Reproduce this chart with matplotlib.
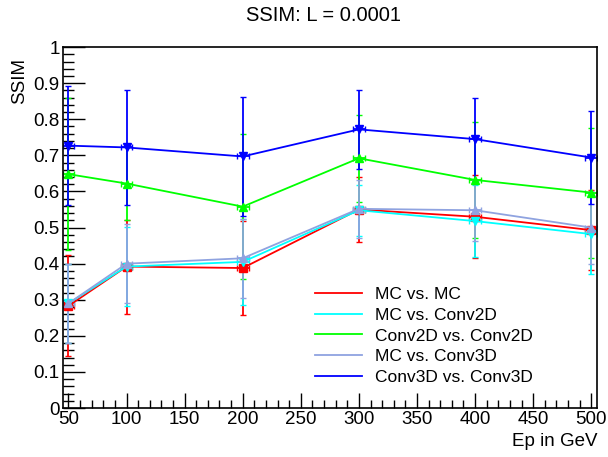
import matplotlib
matplotlib.use("Agg")
import matplotlib.pyplot as plt
from matplotlib.lines import Line2D
from matplotlib.ticker import MultipleLocator

plt.rcParams['font.family'] = ['Liberation Sans', 'DejaVu Sans']

energies = [50, 100, 200, 300, 400, 500]
x_err = [5, 5, 5, 5, 5, 5]

labels = ["MC vs. MC", "MC vs. Conv2D", "Conv2D vs. Conv2D", "MC vs. Conv3D", "Conv3D vs. Conv3D"]
colors = ["#ff0000", "#00ffff", "#00ff00", "#8fa3e0", "#0000ff"]
markers = ["s", "v", "^", "^", "v"]

mc_mc = [0.283, 0.392, 0.388, 0.550, 0.530, 0.493]
mc_mc_err = [0.14, 0.13, 0.13, 0.09, 0.115, 0.11]
mc_conv2d = [0.290, 0.392, 0.405, 0.548, 0.518, 0.482]
mc_conv2d_err = [0.11, 0.11, 0.12, 0.07, 0.10, 0.11]
conv2d_conv2d = [0.648, 0.622, 0.558, 0.692, 0.632, 0.597]
conv2d_conv2d_err = [0.21, 0.10, 0.20, 0.12, 0.16, 0.18]
mc_conv3d = [0.290, 0.400, 0.415, 0.552, 0.548, 0.500]
mc_conv3d_err = [0.11, 0.11, 0.11, 0.08, 0.085, 0.10]
conv3d_conv3d = [0.727, 0.722, 0.697, 0.772, 0.745, 0.694]
conv3d_conv3d_err = [0.165, 0.16, 0.165, 0.11, 0.115, 0.13]

series = [mc_mc, mc_conv2d, conv2d_conv2d, mc_conv3d, conv3d_conv3d]
errors = [mc_mc_err, mc_conv2d_err, conv2d_conv2d_err, mc_conv3d_err, conv3d_conv3d_err]

fig = plt.figure(figsize=(6.08, 4.57), dpi=100)
ax = fig.add_axes([0.103, 0.107, 0.879, 0.790])

for vals, errs, c, m in zip(series, errors, colors, markers):
    ax.errorbar(energies, vals, yerr=errs, xerr=x_err, color=c, marker=m,
                markersize=6, linewidth=1.3, elinewidth=1.3, capsize=2, capthick=1.0)

ax.set_xlim(45, 505)
ax.set_ylim(0, 1)
ax.xaxis.set_major_locator(MultipleLocator(50))
ax.xaxis.set_minor_locator(MultipleLocator(10))
ax.yaxis.set_major_locator(MultipleLocator(0.1))
ax.yaxis.set_minor_locator(MultipleLocator(0.02))
ax.yaxis.set_major_formatter(matplotlib.ticker.FuncFormatter(lambda v, p: "0" if abs(v) < 1e-9 else ("1" if abs(v-1) < 1e-9 else f"{v:.1f}")))
ax.tick_params(axis='both', which='both', direction='in', labelsize=13.5, pad=2)
ax.tick_params(axis='y', which='major', length=16, width=1)
ax.tick_params(axis='y', which='minor', length=8, width=1)
ax.tick_params(axis='x', which='major', length=11, width=1)
ax.tick_params(axis='x', which='minor', length=5.5, width=1)
for s in ax.spines.values():
    s.set_linewidth(1.2)

fig.text(0.532, 0.965, "SSIM: L = 0.0001", ha='center', va='center', fontsize=14.5)
fig.text(0.032, 0.873, "SSIM", rotation=90, ha='center', va='top', fontsize=13.5)
fig.text(0.982, 0.035, "Ep in GeV", ha='right', va='center', fontsize=13.5)

handles = [Line2D([0], [0], color=c, linewidth=1.3) for c in colors]
fig.legend(handles, labels, loc='upper left', bbox_to_anchor=(0.518, 0.372),
           frameon=False, fontsize=12.5, handlelength=2.7, handletextpad=0.75,
           labelspacing=0.32, borderpad=0, borderaxespad=0)

fig.savefig("out.png", dpi=100)
